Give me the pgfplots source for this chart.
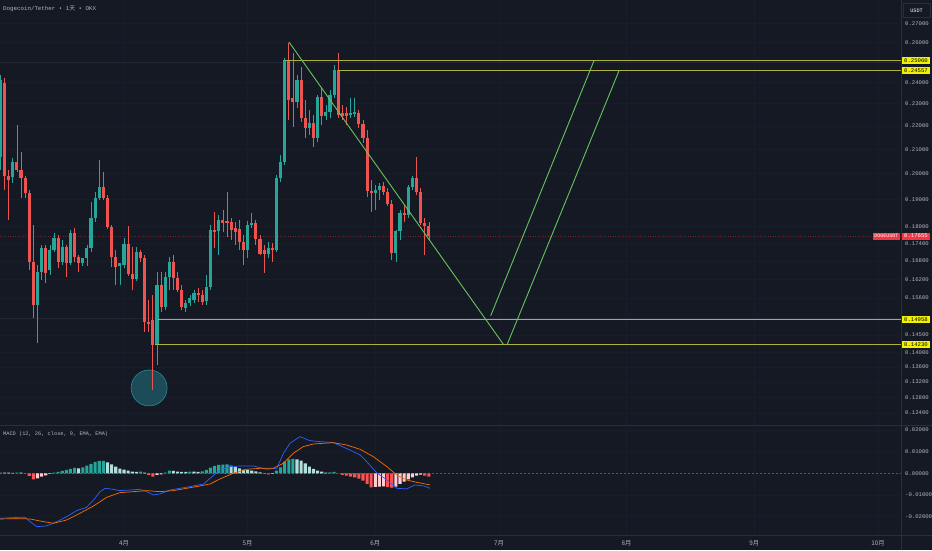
\documentclass[border=0pt]{standalone}
\usepackage{fontspec}
\setmainfont{Liberation Sans}
\newfontfamily\mono{Liberation Mono}
\newfontfamily\cjk{Noto Sans CJK SC}
\usepackage{pgfplots}
\usepackage{pgfplotstable}
\pgfplotsset{compat=1.18}
\definecolor{bgc}{HTML}{151924}
\definecolor{gridc}{HTML}{191D29}
\definecolor{sepc}{HTML}{2A2E39}
\definecolor{guidec}{HTML}{232734}
\definecolor{txtc}{HTML}{B2B5BE}
\definecolor{cgreen}{HTML}{26A69A}
\definecolor{cred}{HTML}{EF5350}
\definecolor{tline}{HTML}{66C45E}
\definecolor{hline}{HTML}{B0B040}
\definecolor{ylab}{HTML}{F2F200}
\definecolor{plab}{HTML}{F23645}
\definecolor{macdb}{HTML}{2962FF}
\definecolor{macdo}{HTML}{FF6D00}
\definecolor{hG}{HTML}{26A69A}
\definecolor{hL}{HTML}{B2DFDB}
\definecolor{hR}{HTML}{FF5252}
\definecolor{hP}{HTML}{FFCDD2}
\definecolor{circf}{HTML}{1D5560}
\definecolor{circd}{HTML}{2B8A96}

% daily candles: day (0 = 1 April), open, high, low, close
\pgfplotstableread{
d o h l c
-30 0.2069 0.2436 0.2015 0.2411
-29 0.2397 0.2421 0.1936 0.1991
-28 0.1991 0.2015 0.1823 0.1975
-27 0.1987 0.2065 0.1963 0.2047
-26 0.2047 0.2204 0.2007 0.2015
-25 0.2015 0.2089 0.1906 0.1983
-24 0.1983 0.1991 0.1906 0.1924
-23 0.1924 0.1936 0.1650 0.1676
-22 0.1676 0.1805 0.1500 0.1539
-21 0.1539 0.1667 0.1426 0.1644
-20 0.1644 0.1735 0.1618 0.1724
-19 0.1724 0.1735 0.1608 0.1640
-18 0.1650 0.1735 0.1634 0.1717
-17 0.1717 0.1777 0.1710 0.1759
-16 0.1759 0.1770 0.1657 0.1676
-15 0.1676 0.1752 0.1667 0.1728
-14 0.1728 0.1735 0.1628 0.1673
-13 0.1673 0.1787 0.1667 0.1777
-12 0.1777 0.1794 0.1676 0.1693
-11 0.1693 0.1700 0.1644 0.1673
-10 0.1673 0.1690 0.1663 0.1690
-9 0.1690 0.1735 0.1663 0.1724
-8 0.1724 0.1890 0.1710 0.1830
-7 0.1830 0.1928 0.1816 0.1906
-6 0.1906 0.2055 0.1898 0.1948
-5 0.1948 0.2007 0.1898 0.1906
-4 0.1906 0.1917 0.1791 0.1798
-3 0.1798 0.1805 0.1660 0.1693
-2 0.1693 0.1717 0.1602 0.1660
-1 0.1663 0.1673 0.1602 0.1673
0 0.1667 0.1759 0.1657 0.1738
1 0.1738 0.1801 0.1631 0.1637
2 0.1637 0.1728 0.1586 0.1621
3 0.1621 0.1728 0.1615 0.1710
4 0.1710 0.1717 0.1676 0.1690
5 0.1690 0.1700 0.1458 0.1488
6 0.1488 0.1554 0.1458 0.1482
7 0.1494 0.1570 0.1299 0.1421
8 0.1421 0.1644 0.1366 0.1602
9 0.1602 0.1644 0.1518 0.1533
10 0.1533 0.1644 0.1524 0.1628
11 0.1628 0.1693 0.1586 0.1676
12 0.1676 0.1700 0.1586 0.1624
13 0.1624 0.1644 0.1580 0.1586
14 0.1586 0.1602 0.1524 0.1533
15 0.1530 0.1554 0.1518 0.1545
16 0.1545 0.1570 0.1536 0.1561
17 0.1554 0.1586 0.1545 0.1576
18 0.1576 0.1592 0.1548 0.1570
19 0.1570 0.1586 0.1539 0.1548
20 0.1551 0.1634 0.1539 0.1596
21 0.1596 0.1805 0.1586 0.1787
22 0.1787 0.1853 0.1724 0.1780
23 0.1784 0.1841 0.1700 0.1823
24 0.1823 0.1860 0.1780 0.1812
25 0.1819 0.1928 0.1763 0.1812
26 0.1816 0.1830 0.1752 0.1787
27 0.1794 0.1816 0.1735 0.1780
28 0.1791 0.1823 0.1717 0.1745
29 0.1745 0.1770 0.1667 0.1717
30 0.1717 0.1820 0.1690 0.1805
31 0.1805 0.1849 0.1794 0.1812
32 0.1812 0.1823 0.1735 0.1756
33 0.1756 0.1770 0.1700 0.1704
34 0.1717 0.1735 0.1640 0.1704
35 0.1704 0.1745 0.1690 0.1724
36 0.1724 0.1742 0.1676 0.1717
37 0.1717 0.1995 0.1710 0.1983
38 0.1983 0.2077 0.1967 0.2047
39 0.2047 0.2519 0.2035 0.2509
40 0.2509 0.2596 0.2226 0.2317
41 0.2326 0.2545 0.2195 0.2308
42 0.2308 0.2436 0.2280 0.2411
43 0.2411 0.2475 0.2217 0.2235
44 0.2235 0.2317 0.2148 0.2191
45 0.2191 0.2271 0.2161 0.2213
46 0.2213 0.2249 0.2110 0.2148
47 0.2148 0.2341 0.2131 0.2331
48 0.2331 0.2378 0.2204 0.2244
49 0.2244 0.2294 0.2226 0.2262
50 0.2262 0.2364 0.2235 0.2341
51 0.2341 0.2485 0.2326 0.2460
52 0.2460 0.2545 0.2235 0.2249
53 0.2258 0.2294 0.2226 0.2244
54 0.2258 0.2285 0.2204 0.2244
55 0.2249 0.2326 0.2235 0.2258
56 0.2253 0.2326 0.2240 0.2262
57 0.2258 0.2271 0.2191 0.2208
58 0.2208 0.2226 0.2127 0.2148
59 0.2148 0.2182 0.1909 0.1932
60 0.1932 0.1975 0.1853 0.1924
61 0.1924 0.1956 0.1860 0.1936
62 0.1936 0.1963 0.1898 0.1952
63 0.1952 0.1967 0.1917 0.1928
64 0.1928 0.1944 0.1875 0.1883
65 0.1883 0.1898 0.1683 0.1707
66 0.1707 0.1787 0.1676 0.1784
67 0.1784 0.1860 0.1752 0.1849
68 0.1849 0.1879 0.1816 0.1841
69 0.1841 0.1956 0.1830 0.1948
70 0.1948 0.1991 0.1936 0.1983
71 0.1983 0.2069 0.1917 0.1928
72 0.1928 0.1944 0.1805 0.1812
73 0.1812 0.1830 0.1700 0.1801
74 0.1801 0.1816 0.1752 0.17655
}\candles

% MACD histogram, split by colour
\pgfplotstableread{
d v
-30 0.00031
-26 0.00031
-17 0.00031
-16 0.00062
-15 0.00108
-14 0.00154
-13 0.00201
-12 0.00247
-10 0.00278
-9 0.00355
-8 0.00432
-7 0.00525
-6 0.00571
-5 0.00575
4 0.00077
10 0.00031
11 0.00123
16 0.00077
19 0.00093
20 0.00154
21 0.00262
22 0.00340
23 0.00386
24 0.00401
25 0.00417
37 0.00123
38 0.00278
39 0.00540
40 0.00648
41 0.00664
50 0.00046
51 0.00062
}\histG
\pgfplotstableread{
d v
-29 0.00031
-28 0.00031
-27 0.00015
-25 0.00031
-11 0.00231
-4 0.00509
-3 0.00417
-2 0.00309
-1 0.00216
0 0.00170
1 0.00123
2 0.00077
3 0.00062
5 0.00031
12 0.00108
13 0.00077
14 0.00062
15 0.00062
17 0.00077
18 0.00062
26 0.00355
27 0.00293
28 0.00231
29 0.00170
30 0.00154
31 0.00123
32 0.00093
33 0.00046
34 0.00010
42 0.00648
43 0.00586
44 0.00463
45 0.00309
46 0.00201
47 0.00123
48 0.00077
49 0.00031
}\histL
\pgfplotstableread{
d v
-24 -0.00015
-23 -0.00123
-22 -0.00278
6 -0.00077
7 -0.00154
35 -0.00046
52 -0.00005
53 -0.00077
54 -0.00108
55 -0.00154
56 -0.00185
57 -0.00247
58 -0.00340
59 -0.00494
60 -0.00648
64 -0.00640
65 -0.00664
73 -0.00108
74 -0.00154
}\histR
\pgfplotstableread{
d v
-21 -0.00231
-20 -0.00154
-19 -0.00093
-18 -0.00031
8 -0.00077
9 -0.00046
36 -0.00031
61 -0.00630
62 -0.00617
63 -0.00610
66 -0.00617
67 -0.00494
68 -0.00386
69 -0.00278
70 -0.00185
71 -0.00108
72 -0.00062
}\histP
\pgfplotstableread{
d v
-30.1 -0.02083
-25.2 -0.02037
-24.0 -0.02037
-22.8 -0.02238
-21.2 -0.02469
-18.8 -0.02438
-16.3 -0.02238
-13.9 -0.02006
-11.5 -0.01728
-9.1 -0.01574
-7.4 -0.01235
-5.8 -0.00849
-4.6 -0.00694
-2.6 -0.00741
-1.0 -0.00802
1.5 -0.00772
3.9 -0.00741
5.5 -0.00849
7.1 -0.01003
8.7 -0.00957
11.2 -0.00772
13.6 -0.00694
16.0 -0.00617
19.3 -0.00494
20.9 -0.00231
23.3 0.00154
25.7 0.00309
28.2 0.00340
31.4 0.00340
34.6 0.00185
37.1 0.00231
38.7 0.00926
40.3 0.01389
42.7 0.01698
45.1 0.01512
47.6 0.01466
50.8 0.01420
54.8 0.01080
57.3 0.00849
58.9 0.00540
61.3 0.00031
63.8 -0.00309
66.2 -0.00694
68.6 -0.00725
70.6 -0.00540
72.7 -0.00586
74.3 -0.00694
}\macdline
\pgfplotstableread{
d v
-30.1 -0.02114
-25.2 -0.02099
-22.8 -0.02114
-20.4 -0.02207
-17.2 -0.02315
-13.9 -0.02160
-10.7 -0.01852
-7.4 -0.01512
-4.2 -0.01111
-1.0 -0.00895
2.3 -0.00849
5.5 -0.00802
8.7 -0.00849
12.0 -0.00802
15.2 -0.00694
18.4 -0.00586
20.9 -0.00494
23.3 -0.00262
26.5 0.00000
29.8 0.00185
33.0 0.00231
36.2 0.00231
38.7 0.00463
41.1 0.00926
43.5 0.01235
46.0 0.01358
50.8 0.01420
54.0 0.01312
57.3 0.01111
60.5 0.00772
63.8 0.00309
66.2 -0.00077
68.6 -0.00309
71.0 -0.00417
74.3 -0.00540
}\signalline

\begin{document}
\begin{tikzpicture}
\fill[bgc] (0,0) rectangle (932pt,550pt);

\begin{axis}[at={(0pt,125pt)}, anchor=south west, scale only axis,
  width=901pt, height=425pt,
  xmin=-30.1, xmax=188.6, ymode=log, ymin=0.12110, ymax=0.28286,
  axis line style={draw=none}, major tick length=0pt,
  xtick={0,30,61,91,122,153,183}, xticklabels={},
  ytick={0.124,0.128,0.132,0.136,0.14,0.145,0.156,0.162,0.168,0.174,0.18,0.19,0.2,0.21,0.22,0.23,0.24,0.26,0.27},
  yticklabels={0.12400,0.12800,0.13200,0.13600,0.14000,0.14500,0.15600,0.16200,0.16800,0.17400,0.18000,0.19000,0.20000,0.21000,0.22000,0.23000,0.24000,0.26000,0.27000},
  yticklabel pos=right,
  yticklabel style={font=\mono\fontsize{5.6}{6}\selectfont, text=txtc, anchor=west, inner sep=0pt, xshift=4pt},
  grid=major, grid style={draw=gridc, line width=0.5pt},
  clip=false]

% faint horizontal guides and last-price line
\addplot[draw=guidec, line width=0.5pt, forget plot] coordinates {(-30.1,0.25) (188.6,0.25)};
\addplot[draw=guidec, line width=0.5pt, forget plot] coordinates {(-30.1,0.15) (188.6,0.15)};
\addplot[draw=plab!40!bgc, line width=0.5pt, dash pattern=on 1pt off 1.5pt, forget plot] coordinates {(-30.1,0.17655) (188.6,0.17655)};

% circle at the low
\draw[draw=circd, fill=circf, fill opacity=0.85, line width=0.6pt] (axis cs:6.1,0.1304) circle[radius=18pt];

% candles
\pgfplotsinvokeforeach{0,...,104}{%
  \pgfplotstablegetelem{#1}{d}\of\candles\let\CD\pgfplotsretval
  \pgfplotstablegetelem{#1}{o}\of\candles\let\CO\pgfplotsretval
  \pgfplotstablegetelem{#1}{h}\of\candles\let\CH\pgfplotsretval
  \pgfplotstablegetelem{#1}{l}\of\candles\let\CL\pgfplotsretval
  \pgfplotstablegetelem{#1}{c}\of\candles\let\CC\pgfplotsretval
  \ifdim\CC pt<\CO pt \def\CCol{cred}\else\def\CCol{cgreen}\fi
  \edef\next{%
    \noexpand\addplot[draw=\CCol, line width=0.7pt, forget plot] coordinates {(\CD,\CL) (\CD,\CH)};
    \noexpand\addplot[draw=\CCol, line width=3.1pt, forget plot] coordinates {(\CD,\CO) (\CD,\CC)};
  }\next
}

% horizontal levels
\addplot[draw=hline, line width=0.8pt] coordinates {(39.1,0.25060) (188.6,0.25060)};
\addplot[draw=hline, line width=0.8pt] coordinates {(51.9,0.24557) (188.6,0.24557)};
\addplot[draw=hline, line width=0.8pt] coordinates {(8.25,0.14958) (188.6,0.14958)};
\addplot[draw=hline, line width=0.8pt] coordinates {(7.5,0.14230) (188.6,0.14230)};

% trend lines
\addplot[draw=tline, line width=0.9pt] coordinates {(40.05,0.2601) (92.06,0.14230)};
\addplot[draw=tline, line width=0.9pt] coordinates {(93.03,0.14230) (120.15,0.24557)};
\addplot[draw=tline, line width=0.9pt] coordinates {(89.0,0.1506) (114.08,0.25060)};

% price-scale labels
\tikzset{ylabel/.style={fill=ylab, text=black, font=\mono\fontsize{5.6}{6}\selectfont, inner xsep=2pt, inner ysep=1.6pt, anchor=west, xshift=1pt}}
\node[ylabel] at (axis cs:188.6,0.25060) {0.25060};
\node[ylabel] at (axis cs:188.6,0.24557) {0.24557};
\node[ylabel] at (axis cs:188.6,0.14958) {0.14958};
\node[ylabel] at (axis cs:188.6,0.14230) {0.14230};
\node[fill=plab, text=white, font=\mono\fontsize{5.6}{6}\selectfont, inner xsep=2pt, inner ysep=1.6pt, anchor=west, xshift=1pt] at (axis cs:188.6,0.17655) {0.17655};
\node[fill=plab, text=white, font=\mono\fontsize{5}{6}\selectfont, inner xsep=1.5pt, inner ysep=1.8pt, anchor=east, xshift=-1pt] at (axis cs:188.6,0.17655) {DOGEUSDT};
\end{axis}

\begin{axis}[at={(0pt,14.3pt)}, anchor=south west, scale only axis,
  width=901pt, height=110.7pt,
  xmin=-30.1, xmax=188.6, ymin=-0.02889, ymax=0.02236,
  axis line style={draw=none}, major tick length=0pt,
  xtick={0,30,61,91,122,153,183},
  xticklabels={4月,5月,6月,7月,8月,9月,10月},
  xticklabel style={font=\cjk\fontsize{6.3}{7}\selectfont, text=txtc, anchor=center, inner sep=0pt, yshift=-7.2pt},
  ytick={-0.02,-0.01,0,0.01,0.02},
  yticklabels={-0.02000,-0.01000,0.00000,0.01000,0.02000},
  scaled y ticks=false,
  yticklabel pos=right,
  yticklabel style={font=\mono\fontsize{5.6}{6}\selectfont, text=txtc, anchor=west, inner sep=0pt, xshift=4pt},
  grid=major, grid style={draw=gridc, line width=0.5pt},
  clip=false]
\addplot[draw=txtc!40!bgc, line width=0.5pt, dash pattern=on 2pt off 2pt] coordinates {(-30.1,0) (188.6,0)};
\addplot[ybar, bar width=3.1pt, bar shift=0pt, fill=hG, draw=none] table[x=d,y=v] {\histG};
\addplot[ybar, bar width=3.1pt, bar shift=0pt, fill=hL, draw=none] table[x=d,y=v] {\histL};
\addplot[ybar, bar width=3.1pt, bar shift=0pt, fill=hR, draw=none] table[x=d,y=v] {\histR};
\addplot[ybar, bar width=3.1pt, bar shift=0pt, fill=hP, draw=none] table[x=d,y=v] {\histP};
\addplot[draw=macdb, line width=0.7pt] table[x=d,y=v] {\macdline};
\addplot[draw=macdo, line width=0.7pt] table[x=d,y=v] {\signalline};
\end{axis}

% pane separators
\draw[sepc, line width=0.8pt] (0pt,125pt) -- (932pt,125pt);
\draw[sepc, line width=0.6pt] (0pt,14.3pt) -- (932pt,14.3pt);
\draw[sepc, line width=0.6pt] (901pt,0pt) -- (901pt,550pt);

% texts
\node[anchor=west, text=txtc, font=\mono\fontsize{5.8}{6}\selectfont, inner sep=0pt] at (3pt,541pt) {Dogecoin/Tether • 1{\cjk 天} • OKX};
\node[anchor=west, text=txtc, font=\mono\fontsize{5.3}{6}\selectfont, inner sep=0pt] at (3pt,116pt) {MACD (12, 26, close, 9, EMA, EMA)};
\node[draw=sepc, fill=bgc, text=white, font=\mono\fontsize{5.2}{6}\selectfont, minimum width=27pt, minimum height=14pt, inner sep=1pt] at (916.5pt,539.5pt) {USDT};

\pgfresetboundingbox
\useasboundingbox (0,0) rectangle (932pt,550pt);
\end{tikzpicture}
\end{document}
